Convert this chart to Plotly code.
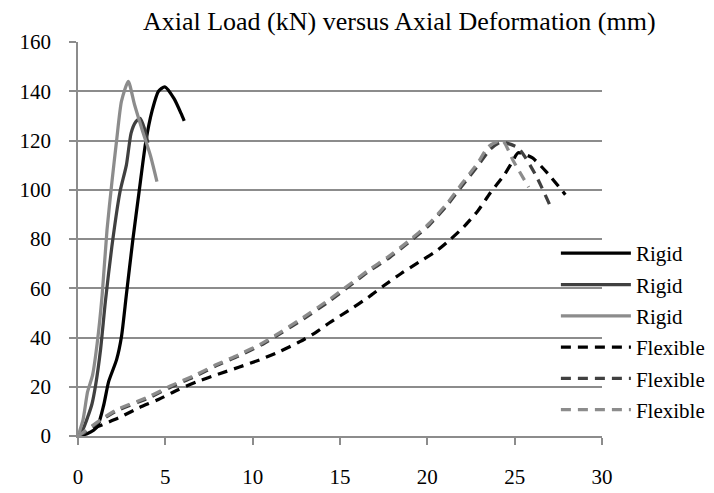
import plotly.graph_objects as go

# Rigid specimens (deformation mm, load kN)
rigid1_x = [0, 0.55, 1.1, 1.48, 1.75, 2.21, 2.49, 2.77, 3.14, 3.5, 3.87, 4.24, 4.61, 4.97, 5.5, 5.9, 6.08]
rigid1_y = [0, 1, 3.7, 12.8, 22, 31, 40.4, 57.4, 79.7, 99.3, 119, 132, 140, 141.8, 137, 131, 128]

rigid2_x = [0, 0.3, 0.55, 0.8, 1.01, 1.29, 1.57, 1.94, 2.4, 2.77, 3.04, 3.3, 3.55, 3.8, 4.0]
rigid2_y = [0, 3, 7.6, 13, 20.7, 35, 54.8, 77, 99, 110, 123, 127.5, 129, 125, 119]

rigid3_x = [0, 0.28, 0.55, 0.83, 1.1, 1.38, 1.66, 1.94, 2.21, 2.49, 2.88, 3.23, 3.69, 4.15, 4.52]
rigid3_y = [0, 6.3, 18, 24.6, 37.7, 57, 83.6, 103, 120, 136, 144, 134.7, 124, 113.8, 103.3]

# Flexible specimens
flex1_x = [0, 0.5, 1.1, 2.4, 3.5, 4.6, 5.7, 6.8, 8.1, 9.2, 10.5, 11.6, 12.7, 13.6, 14.4, 15.5, 16.6,
           17.5, 18.5, 19.5, 20.5, 21.3, 22.1, 22.9, 23.6, 24.4, 24.9, 25.2, 26.0, 26.9, 27.9]
flex1_y = [0, 1.5, 3.7, 7.6, 11.5, 14.8, 18.7, 22, 25.3, 27.9, 31.2, 34.5, 38.3, 42, 46, 51, 56.2,
           61, 66, 70.5, 75, 79.7, 85, 91.5, 98.7, 106, 111.8, 115, 113, 106.6, 98]

flex2_x = [0, 0.4, 1.3, 2.2, 4.06, 5.35, 6.64, 7.93, 9.2, 10.5, 11.6, 12.9, 14.4, 15.5, 16.6, 17.7,
           18.9, 20.1, 21.1, 21.96, 22.9, 23.6, 24.2, 25.2, 26.2, 27.0]
flex2_y = [0, 1.5, 6.3, 10.2, 15.5, 20, 24, 28.6, 32.5, 37, 41.7, 47.5, 54.8, 60.7, 66.6, 71.8,
           78.4, 85.6, 93.4, 101.3, 109.8, 116.4, 119.3, 117, 106, 94]

flex3_x = [0, 0.3, 1.3, 2.2, 4.06, 5.35, 6.64, 7.93, 9.2, 10.5, 11.6, 12.9, 14.4, 15.5, 16.6, 17.7,
           18.9, 20.1, 21.1, 21.96, 22.9, 23.5, 24.3, 24.9, 25.8]
flex3_y = [0, 1.5, 6.6, 10.6, 16, 20.5, 24.5, 29, 33, 37.5, 42.2, 48.2, 55.5, 61.3, 67.2, 72.5,
           79, 86.3, 94.2, 102.3, 111, 117.5, 120, 112, 101]

legend_names = ["Rigid", "Rigid", "Rigid", "Flexible", "Flexible", "Flexible"]
x_ticks = [0, 5, 10, 15, 20, 25, 30]
y_ticks = [0, 20, 40, 60, 80, 100, 120, 140, 160]

FONT = "'Times New Roman', 'Liberation Serif', Times, 'DejaVu Serif', serif"
GRID = "#8c8c8c"
colors = ["#000000", "#404040", "#8c8c8c", "#000000", "#404040", "#8c8c8c"]
dashes = ["solid", "solid", "solid", "10px,7px", "10px,7px", "10px,7px"]

series = [(rigid1_x, rigid1_y), (rigid2_x, rigid2_y), (rigid3_x, rigid3_y),
          (flex1_x, flex1_y), (flex2_x, flex2_y), (flex3_x, flex3_y)]

fig = go.Figure()
for i, (xs, ys) in enumerate(series):
    fig.add_trace(go.Scatter(
        x=xs, y=ys, mode="lines", name=legend_names[i],
        legendgroup="g%d" % i,
        line=dict(color=colors[i], width=3.25, dash=dashes[i], shape="spline", smoothing=0.6),
    ))

fig.update_layout(
    width=714, height=493,
    margin=dict(l=70, r=102, t=34, b=52),
    paper_bgcolor="white", plot_bgcolor="white",
    font=dict(family=FONT, size=21, color="black"),
    title=dict(text="Axial Load (kN) versus Axial Deformation (mm)",
               x=0.548, xref="container", xanchor="center",
               y=0.993, yref="container", yanchor="top",
               font=dict(family=FONT, size=26, color="black")),
    legend=dict(x=0.912, xanchor="left", y=0.265, yanchor="middle",
                bgcolor="rgba(0,0,0,0)", borderwidth=0,
                font=dict(family=FONT, size=21, color="black"),
                tracegroupgap=1, itemwidth=70),
    showlegend=True,
)
fig.update_xaxes(range=[0, 30], tickvals=x_ticks, showgrid=False,
                 showline=True, linecolor=GRID, linewidth=1.5,
                 ticks="outside", ticklen=7, tickcolor=GRID, tickwidth=1.5,
                 zeroline=False, ticklabelstandoff=14)
fig.update_yaxes(range=[0, 160], tickvals=y_ticks, showgrid=True, gridcolor=GRID, gridwidth=1.5,
                 showline=True, linecolor=GRID, linewidth=1.5,
                 ticks="outside", ticklen=7, tickcolor=GRID, tickwidth=1.5,
                 zeroline=False, ticklabelstandoff=14)

fig.write_html("out.html")
